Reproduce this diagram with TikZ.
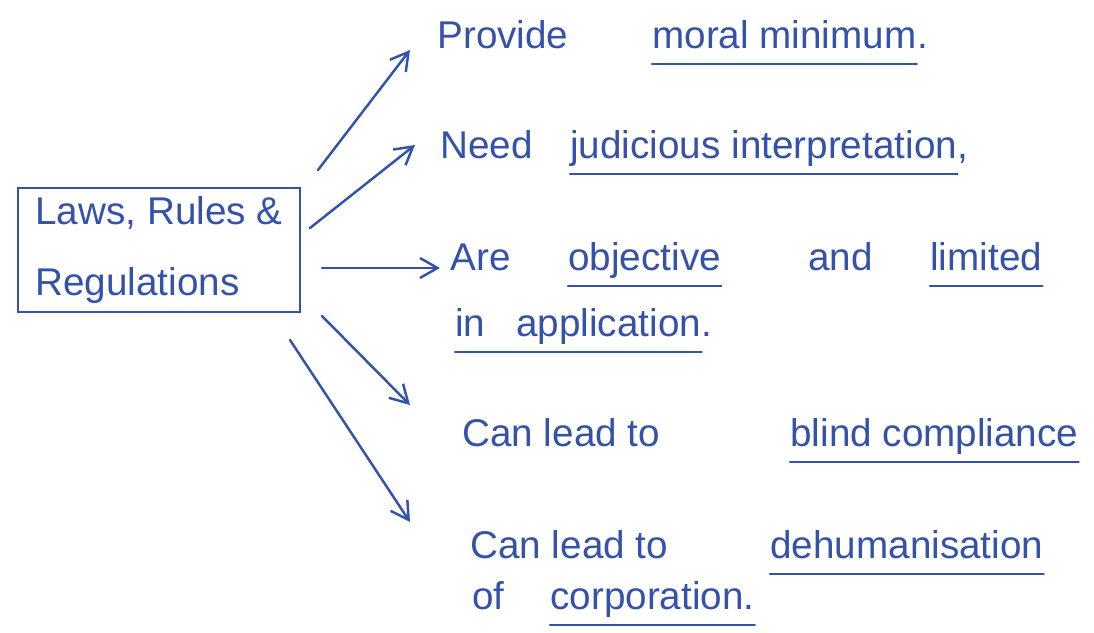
\documentclass[tikz,border=0pt]{standalone}
\usepackage{fontspec}
\setmainfont{Liberation Sans}
\usetikzlibrary{arrows.meta}
\definecolor{ink}{RGB}{52,82,170}
\begin{document}
\begin{tikzpicture}[x=0.02cm,y=-0.02cm,
  pen/.style={ink,line width=1.4pt,line cap=round},
  arr/.style={pen,-{Straight Barb[length=3.5mm,width=4mm]}},
  txt/.style={text=ink,anchor=base west,inner sep=0pt,font=\fontsize{22}{28}\selectfont},
  ul/.style={pen}]
\useasboundingbox[fill=white] (0,0) rectangle (1094,632);
% box
\node[draw=ink,line width=1.4pt,text=ink,minimum width=5.64cm,minimum height=2.48cm,align=left,
  font=\fontsize{22}{40}\selectfont] (laws) at (159,250) {Laws, Rules \&\\Regulations};
% line 1
\node[txt] (p1) at (437,48) {Provide};
\node[txt] (p1u) at (652,48) {moral minimum};
\node[txt] (p1e) at (p1u.base east) {.};
% line 2
\node[txt] (p2) at (440,158) {Need};
\node[txt] (p2u) at (570,158) {judicious interpretation};
\node[txt] (p2e) at (p2u.base east) {,};
% line 3
\node[txt] (p3) at (450,270) {Are};
\node[txt] (p3u) at (568,270) {objective};
\node[txt] (p3b) at (808,270) {and};
\node[txt] (p3v) at (930,270) {limited};
% line 4
\node[txt] (p4u) at (455,336) {in\hspace{0.8em}application};
\node[txt] (p4e) at (p4u.base east) {.};
% line 5
\node[txt] (p5) at (462,446) {Can lead to};
\node[txt] (p5u) at (790,446) {blind compliance};
% line 6
\node[txt] (p6) at (470,558) {Can lead to};
\node[txt] (p6u) at (770,558) {dehumanisation};
% line 7
\node[txt] (p7) at (472,609) {of};
\node[txt] (p7u) at (550,609) {corporation.};
% underlines
\foreach \n in {p1u,p2u,p3u,p3v,p4u,p5u,p6u,p7u}
  \draw[ul] ([yshift=-9pt]\n.base west) -- ([yshift=-9pt]\n.base east);
% arrows
\coordinate (s1) at (318,170); \coordinate (e1) at (410,50);
\coordinate (s2) at (310,228); \coordinate (e2) at (415,145);
\coordinate (s3) at (322,268); \coordinate (e3) at (440,268);
\coordinate (s4) at (322,316); \coordinate (e4) at (410,405);
\coordinate (s5) at (290,340); \coordinate (e5) at (410,522);
\draw[arr] (s1) -- (e1);
\draw[arr] (s2) -- (e2);
\draw[arr] (s3) -- (e3);
\draw[arr] (s4) -- (e4);
\draw[arr] (s5) -- (e5);
\end{tikzpicture}
\end{document}
